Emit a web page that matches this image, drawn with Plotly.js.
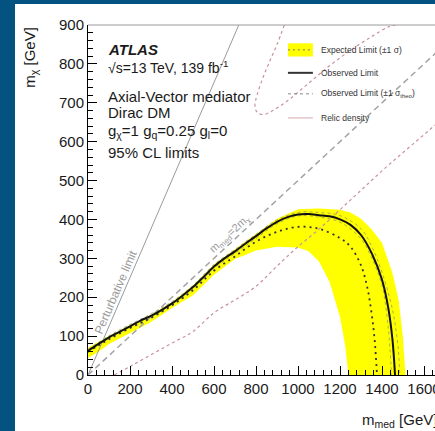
<!DOCTYPE html>
<html>
<head>
<meta charset="utf-8">
<script src="https://cdn.plot.ly/plotly-3.0.1.min.js"></script>
<style>
  html, body { margin: 0; padding: 0; width: 435px; height: 431px; overflow: hidden; background: #04527f; }
  #chart { position: absolute; left: 15px; top: 4px; width: 520px; height: 427px; background: #ffffff; }
</style>
</head>
<body>
<div id="chart"></div>
<script>
// ---- data (m_med, m_chi in GeV) ----
const obsX = [0, 50, 100, 150, 200, 250, 300, 350, 400, 450, 500, 550, 600, 650, 700, 750, 800, 850, 900, 950, 1000, 1050, 1100, 1150, 1200, 1250, 1300, 1350, 1400, 1430, 1450, 1462];
const obsY = [62, 80, 97, 111, 125, 140, 152, 167, 184, 204, 226, 252, 279, 300, 318, 338, 357, 377, 394, 406, 413, 414, 411, 408, 400, 386, 360, 314, 245, 172, 90, 0];

const expX = [0, 50, 100, 200, 300, 400, 500, 600, 700, 800, 900, 1000, 1100, 1200, 1250, 1300, 1330, 1350, 1365, 1376];
const expY = [60, 76, 92, 121, 147, 179, 218, 268, 305, 343, 368, 381, 376, 352, 330, 282, 225, 160, 90, 0];

const bandUpX = [0, 50, 100, 200, 300, 400, 500, 600, 700, 800, 900, 1000, 1100, 1200, 1250, 1300, 1350, 1400, 1450, 1480, 1500, 1512];
const bandUpY = [70, 86, 100, 128, 155, 187, 230, 284, 323, 364, 402, 426, 428, 425, 418, 402, 375, 340, 262, 190, 95, 0];
const bandLoX = [0, 50, 100, 200, 300, 400, 500, 600, 700, 800, 900, 1000, 1050, 1100, 1150, 1200, 1225, 1240];
const bandLoY = [44, 60, 80, 108, 136, 172, 205, 258, 298, 320, 330, 328, 318, 292, 240, 150, 75, 0];

const theoUpX = [0, 100, 200, 300, 400, 500, 600, 700, 800, 900, 1000, 1100, 1200, 1300, 1350, 1400, 1450, 1475, 1485];
const theoUpY = [66, 101, 130, 157, 189, 230, 284, 323, 362, 399, 418, 418, 410, 376, 332, 264, 168, 80, 0];
const theoDnX = [0, 100, 200, 300, 400, 500, 600, 700, 800, 900, 1000, 1100, 1200, 1300, 1350, 1400, 1430, 1445];
const theoDnY = [58, 93, 120, 147, 179, 221, 274, 313, 351, 389, 409, 406, 393, 350, 302, 230, 120, 0];

const relicLoX = [125, 200, 300, 400, 500, 600, 700, 800, 900, 1000, 1100, 1200, 1300, 1400, 1500, 1600, 1700, 1800];
const relicLoY = [0, 22, 52, 82, 112, 160, 193, 228, 280, 330, 375, 425, 475, 525, 572, 618, 665, 712];
const relicUpX = [935, 900, 860, 830, 805, 795, 800, 815, 840, 880, 950, 1050, 1150, 1250, 1350, 1430, 1465];
const relicUpY = [900, 850, 800, 760, 720, 695, 680, 672, 670, 680, 705, 750, 795, 835, 870, 895, 900];

const pertX = [0, 718];
const pertY = [0, 900];
const diagX = [0, 1800];
const diagY = [0, 900];

const xTickVals = [0, 200, 400, 600, 800, 1000, 1200, 1400, 1600, 1800];
const yTickVals = [0, 100, 200, 300, 400, 500, 600, 700, 800, 900];

// ---- traces ----
const bandX = bandUpX.concat(bandLoX.slice().reverse());
const bandY = bandUpY.concat(bandLoY.slice().reverse());

const FONT = "Liberation Sans, Arial, Helvetica, sans-serif";

const traces = [
  { x: bandX, y: bandY, type: 'scatter', mode: 'lines', fill: 'toself',
    fillcolor: '#ffff00', line: { width: 0, color: '#ffff00' }, name: 'Expected Limit (±1 σ)' },
  { x: relicLoX, y: relicLoY, type: 'scatter', mode: 'lines',
    line: { color: '#c9929c', width: 1.2, dash: 'dot', shape: 'spline' }, name: 'Relic density' },
  { x: relicUpX, y: relicUpY, type: 'scatter', mode: 'lines',
    line: { color: '#c9929c', width: 1.2, dash: 'dot', shape: 'spline' }, name: 'Relic density upper' },
  { x: pertX, y: pertY, type: 'scatter', mode: 'lines',
    line: { color: '#9a9a9a', width: 1 }, name: 'Perturbative limit' },
  { x: diagX, y: diagY, type: 'scatter', mode: 'lines',
    line: { color: '#a3a3a3', width: 1.5, dash: '6px,4px' }, name: 'm_med = 2 m_chi' },
  { x: theoUpX, y: theoUpY, type: 'scatter', mode: 'lines',
    line: { color: '#9a9a60', width: 0.8, dash: '3px,3px', shape: 'spline' }, name: 'theo up' },
  { x: theoDnX, y: theoDnY, type: 'scatter', mode: 'lines',
    line: { color: '#9a9a60', width: 0.8, dash: '3px,3px', shape: 'spline' }, name: 'theo down' },
  { x: expX, y: expY, type: 'scatter', mode: 'lines',
    line: { color: '#333', width: 1.8, dash: '2px,4px', shape: 'spline' }, name: 'Expected Limit' },
  { x: obsX, y: obsY, type: 'scatter', mode: 'lines',
    line: { color: '#111', width: 2, shape: 'spline' }, name: 'Observed Limit' }
];

// ---- legend (drawn as shapes + text) ----
const legX0 = 952, legX1 = 1071, legText = 1100;
const legRows = [836, 777, 723, 661];

const shapes = [
  { type: 'line', xref: 'paper', yref: 'paper', x0: 0, x1: 1, y0: 1, y1: 1, line: { color: '#9a9a9a', width: 1 } },
  { type: 'rect', xref: 'x', yref: 'y', x0: legX0, x1: legX1, y0: legRows[0] - 17, y1: legRows[0] + 17,
    fillcolor: '#ffff00', line: { width: 0 } },
  { type: 'line', xref: 'x', yref: 'y', x0: legX0, x1: legX1, y0: legRows[0], y1: legRows[0],
    line: { color: '#777', width: 1, dash: '2px,3px' } },
  { type: 'line', xref: 'x', yref: 'y', x0: legX0, x1: legX1, y0: legRows[1], y1: legRows[1],
    line: { color: '#333', width: 2 } },
  { type: 'line', xref: 'x', yref: 'y', x0: legX0, x1: legX1, y0: legRows[2], y1: legRows[2],
    line: { color: '#888', width: 1, dash: '3px,3px' } },
  { type: 'line', xref: 'x', yref: 'y', x0: legX0, x1: legX1, y0: legRows[3], y1: legRows[3],
    line: { color: '#d4a8b0', width: 1 } }
];

const legLabels = ['Expected Limit (±1 σ)', 'Observed Limit', 'Observed Limit (±1 σ<sub>theo</sub>)', 'Relic density'];

const annotations = [];
legLabels.forEach((t, i) => annotations.push({
  x: legText, y: legRows[i], xref: 'x', yref: 'y', text: t, showarrow: false,
  xanchor: 'left', yanchor: 'middle', font: { family: FONT, size: 8.5, color: '#333' }
}));

const infoLines = [
  { t: '<b><i>ATLAS</i></b>', y: 836, s: 15 },
  { t: '√s=13 TeV, 139 fb<sup>-1</sup>', y: 791, s: 14 },
  { t: 'Axial-Vector mediator', y: 715, s: 15 },
  { t: 'Dirac DM', y: 674, s: 15 },
  { t: 'g<sub>χ</sub>=1 g<sub>q</sub>=0.25 g<sub>l</sub>=0', y: 627, s: 15 },
  { t: '95% CL limits', y: 573, s: 15 }
];
infoLines.forEach(l => annotations.push({
  x: 88, y: l.y, xref: 'x', yref: 'y', text: l.t, showarrow: false,
  xanchor: 'left', yanchor: 'middle', font: { family: FONT, size: l.s, color: '#1a1a1a' }
}));

annotations.push({
  x: 133, y: 213, xref: 'x', yref: 'y', text: 'Perturbative limit', showarrow: false,
  textangle: -66.7, font: { family: FONT, size: 12, color: '#9a9a9a' }
});
annotations.push({
  x: 676, y: 362, xref: 'x', yref: 'y', text: 'm<sub>med</sub>=2m<sub>χ</sub>', showarrow: false,
  textangle: -42.8, font: { family: FONT, size: 11, color: '#a0a0a0' }
});
annotations.push({
  x: -0.153, y: 1.0, xref: 'paper', yref: 'paper', text: 'm<sub>χ</sub> [GeV]', showarrow: false,
  textangle: -90, xanchor: 'center', yanchor: 'top', font: { family: FONT, size: 15, color: '#1a1a1a' }
});
annotations.push({
  x: 0.72, y: -0.13, xref: 'paper', yref: 'paper', text: 'm<sub>med</sub> [GeV]', showarrow: false,
  xanchor: 'left', yanchor: 'middle', font: { family: FONT, size: 15, color: '#1a1a1a' }
});

const axisCommon = {
  ticks: 'inside', ticklen: 9, tickwidth: 1, tickcolor: '#000',
  showline: true, linecolor: '#000', linewidth: 1,
  showgrid: false, zeroline: false,
  tickfont: { family: FONT, size: 15, color: '#1a1a1a' }
};

const layout = {
  width: 520, height: 427,
  margin: { l: 73, r: 69, t: 21, b: 56 },
  paper_bgcolor: '#ffffff', plot_bgcolor: '#ffffff',
  showlegend: false,
  xaxis: Object.assign({}, axisCommon, {
    range: [0, 1800], tickvals: xTickVals, ticktext: xTickVals.map(String),
    minor: { ticks: 'inside', ticklen: 5, dtick: 40, tick0: 0, tickcolor: '#000', showgrid: false }
  }),
  yaxis: Object.assign({}, axisCommon, {
    range: [0, 900], tickvals: yTickVals, ticktext: yTickVals.map(String),
    minor: { ticks: 'inside', ticklen: 5, dtick: 20, tick0: 0, tickcolor: '#000', showgrid: false }
  }),
  shapes: shapes,
  annotations: annotations
};

Plotly.newPlot('chart', traces, layout, { displayModeBar: false, staticPlot: true });
</script>
</body>
</html>
